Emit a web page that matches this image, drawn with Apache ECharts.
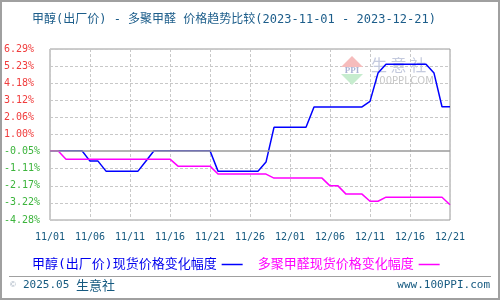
<!DOCTYPE html>
<html><head><meta charset="utf-8">
<script src="https://cdn.jsdelivr.net/npm/echarts@6/dist/echarts.min.js"></script>
<style>html,body{margin:0;padding:0;background:#fff}#c{width:500px;height:300px}</style>
</head><body><div id="c"></div>
<script>
const dates = ['11/01','11/02','11/03','11/04','11/05','11/06','11/07','11/08','11/09','11/10',
  '11/11','11/12','11/13','11/14','11/15','11/16','11/17','11/18','11/19','11/20',
  '11/21','11/22','11/23','11/24','11/25','11/26','11/27','11/28','11/29','11/30',
  '12/01','12/02','12/03','12/04','12/05','12/06','12/07','12/08','12/09','12/10',
  '12/11','12/12','12/13','12/14','12/15','12/16','12/17','12/18','12/19','12/20','12/21'];
const methanol = [0,0,0,0,0,-0.64,-0.64,-1.26,-1.26,-1.26,
  -1.26,-1.26,-0.63,0,0,0,0,0,0,0,
  0,-1.26,-1.26,-1.26,-1.26,-1.26,-1.26,-0.7,1.45,1.45,
  1.45,1.45,1.45,2.71,2.71,2.71,2.71,2.71,2.71,2.71,
  3.05,4.8,5.35,5.35,5.35,5.35,5.35,5.35,4.8,2.72,2.72];
const paraform = [0,0,-0.52,-0.52,-0.52,-0.52,-0.52,-0.52,-0.52,-0.52,
  -0.52,-0.52,-0.52,-0.52,-0.52,-0.52,-0.95,-0.95,-0.95,-0.95,
  -0.95,-1.44,-1.44,-1.44,-1.44,-1.44,-1.44,-1.44,-1.69,-1.69,
  -1.69,-1.69,-1.69,-1.69,-1.69,-2.17,-2.17,-2.68,-2.68,-2.68,
  -3.12,-3.12,-2.87,-2.87,-2.87,-2.87,-2.87,-2.87,-2.87,-2.87,-3.34];
const yTickLabels = ['-4.28%','-3.22%','-2.17%','-1.11%','-0.05%','1.00%','2.06%','3.12%','4.18%','5.23%','6.29%'];
const seriesNames = ['甲醇(出厂价)现货价格变化幅度','多聚甲醛现货价格变化幅度'];
const titleText = '甲醇(出厂价) - 多聚甲醛 价格趋势比较(2023-11-01 - 2023-12-21)';

const FONT = "'DejaVu Sans Mono','Noto Sans CJK SC',monospace";
const chart = echarts.init(document.getElementById('c'), null, {renderer:'canvas'});
const gridColors = yTickLabels.map((t,i)=> i===4 ? 'rgba(0,0,0,0)' : '#c8c8c8');
chart.setOption({
  animation:false,
  backgroundColor:'#fff',
  title:{text:titleText,left:27,top:9,textStyle:{fontSize:12,fontWeight:'normal',color:'#1c5d8a',fontFamily:FONT}},
  grid:{left:50,right:50,top:49,bottom:80,show:true,borderColor:'#9a9a9a',borderWidth:1,backgroundColor:'transparent'},
  legend:{left:27,top:253,align:'right',icon:'rect',itemWidth:21,itemHeight:1.5,itemGap:15,
    textStyle:{fontSize:13,fontFamily:FONT},
    data:[{name:seriesNames[0],textStyle:{color:'#0000ee'}},{name:seriesNames[1],textStyle:{color:'#ff00ff'}}]},
  xAxis:{type:'category',data:dates,boundaryGap:false,
    axisLine:{show:false},axisTick:{show:false},
    axisLabel:{interval:4,color:'#165a80',fontSize:10,fontFamily:FONT,margin:12},
    splitLine:{show:true,interval:4,lineStyle:{color:'#c8c8c8',type:[3,2],width:1}}},
  yAxis:[
    {type:'value',min:-4.28,max:6.29,show:false,splitLine:{show:false}},
    {type:'value',min:0,max:10,interval:1,position:'left',
      axisLine:{show:false},axisTick:{show:false},
      axisLabel:{formatter:(v)=>yTickLabels[Math.round(v)],align:'left',margin:46,fontSize:10,fontFamily:FONT,
        color:(v)=> Math.round(v)>=5 ? '#f03c3c' : '#3cb43c'},
      splitLine:{show:true,lineStyle:{color:gridColors,type:[3,2],width:1}}}
  ],
  series:[
    {name:seriesNames[0],type:'line',yAxisIndex:0,data:methanol,symbol:'none',
      lineStyle:{color:'#0000ff',width:1.5},itemStyle:{color:'#0000ff'},
      markLine:{silent:true,symbol:'none',label:{show:false},lineStyle:{color:'#9a9a9a',type:'solid',width:1.5},data:[{yAxis:0}]}},
    {name:seriesNames[1],type:'line',yAxisIndex:0,data:paraform,symbol:'none',
      lineStyle:{color:'#ff00ff',width:1.5},itemStyle:{color:'#ff00ff'}}
  ],
  graphic:[
    {type:'polygon',z:1,shape:{points:[[341,67],[352,56],[363,67]]},style:{fill:'#f6bcbc'}},
    {type:'polygon',z:1,shape:{points:[[341,74],[363,74],[352,85]]},style:{fill:'#c6ecce'}},
    {type:'text',z:1,x:352,y:70.5,style:{text:'PPI',fill:'#aab2d4',font:'bold 9px serif',align:'center',verticalAlign:'middle'}},
    {type:'text',z:1,x:371,y:57,style:{text:'生 意 社',fill:'#c4cade',font:"16px 'Noto Sans CJK SC'"}},
    {type:'text',z:1,x:373,y:76,style:{text:'100PPI.COM',fill:'#c8c8c8',font:"10px 'DejaVu Sans'"}},
    {type:'line',z:10,shape:{x1:9,y1:276.5,x2:491,y2:276.5},style:{stroke:'#a0a0a0',lineWidth:1}},
    {type:'text',z:10,x:10,y:285,style:{text:'©',fill:'#9aa8b8',font:'8px sans-serif',verticalAlign:'middle'}},
    {type:'text',z:10,x:23,y:285,style:{text:'{a|2025.05 }{b|生意社}',verticalAlign:'middle',
      rich:{a:{fill:'#165a80',font:"11px 'DejaVu Sans Mono'",verticalAlign:'middle'},b:{fill:'#165a80',font:"13px 'Noto Sans CJK SC'",verticalAlign:'middle'}}}},
    {type:'text',z:10,x:490,y:285,style:{text:'www.100PPI.com',fill:'#165a80',font:"11px 'DejaVu Sans Mono'",align:'right',verticalAlign:'middle'}},
    {type:'rect',z:20,shape:{x:1,y:1,width:498,height:298},style:{fill:'none',stroke:'#a0a0a0',lineWidth:2}}
  ]
});
</script></body></html>
